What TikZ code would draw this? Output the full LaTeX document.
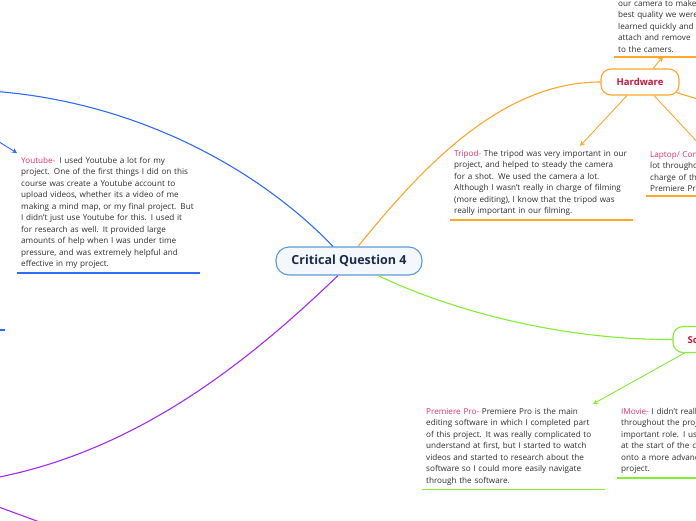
\documentclass[tikz,border=0pt]{standalone}
\usepackage{fontspec}
\setmainfont{Open Sans}
\usetikzlibrary{calc,arrows.meta}
\definecolor{cblue}{HTML}{2F6BFF}
\definecolor{corange}{HTML}{FFA726}
\definecolor{cgreen}{HTML}{84EE30}
\definecolor{cpurple}{HTML}{A52AF5}
\definecolor{clabel}{HTML}{E8336D}
\definecolor{ctitle}{HTML}{C8173C}
\definecolor{cnavy}{HTML}{1B2B4B}
\definecolor{ccentral}{HTML}{5B9BD5}
\definecolor{cfill}{HTML}{F4F8FC}
\definecolor{ctext}{HTML}{2E2E2E}
\tikzset{
  conn/.style={line width=1.1pt},
  arr/.style={line width=0.9pt,-{Stealth[length=5pt,width=5pt]}},
  ul/.style={line width=1.7pt},
  note/.style={anchor=north west, inner xsep=4pt, inner ysep=4pt, text width=200pt, align=left,
    font=\fontsize{8.15}{11.5}\selectfont, text=ctext},
  topic/.style={rounded corners=10pt, line width=1.1pt, fill=white, minimum height=26pt,
    font=\bfseries\fontsize{9.5}{11}\selectfont, text=ctitle}
}
\begin{document}
\begin{tikzpicture}[x=1pt,y=-1pt]
\useasboundingbox (0,0) rectangle (696,520);
\fill[white] (0,0) rectangle (696,520);
\clip (0,0) rectangle (696,520);

% central and topic nodes
\node[draw=ccentral, fill=cfill, line width=1.1pt, rounded corners=13pt, minimum width=146pt, minimum height=28pt,
  font=\bfseries\fontsize{12.5}{14}\selectfont, text=cnavy] (cq) at (349,261) {Critical Question 4};
\node[topic, draw=corange, minimum width=78pt] (hw) at (640,82) {Hardware};
\node[topic, draw=cgreen, minimum width=72pt] (sw) at (709,339.5) {Software};

% notes
\node[note] (yt) at (17,153) {\textcolor{clabel}{Youtube-}\enspace I used Youtube a lot for my\\
project. One of the first things I did on this\\
course was create a Youtube account to\\
upload videos, whether its a video of me\\
making a mind map, or my final project. But\\
I didn't just use Youtube for this. I used it\\
for research as well. It provided large\\
amounts of help when I was under time\\
pressure, and was extremely helpful and\\
effective in my project.};

\node[note] (trip) at (450,146) {\textcolor{clabel}{Tripod-} The tripod was very important in our\\
project, and helped to steady the camera\\
for a shot. We used the camera a lot.\\
Although I wasn't really in charge of filming\\
(more editing), I know that the tripod was\\
really important in our filming.};

\node[note] (lap) at (646,147) {\textcolor{clabel}{Laptop/ Computer}\\
lot throughout\\
charge of the\\
Premiere Pro};

\node[note] (topb) at (614,-4) {our camera to make\\
best quality we were\\
learned quickly and\\
attach and remove\\
to the camers.};

\node[note] (prem) at (422,404) {\textcolor{clabel}{Premiere Pro-} Premiere Pro is the main\\
editing software in which I completed part\\
of this project. It was really complicated to\\
understand at first, but I started to watch\\
videos and started to research about the\\
software so I could more easily navigate\\
through the software.};

\node[note] (imov) at (617,404) {\textcolor{clabel}{IMovie-} I didn't really\\
throughout the project\\
important role. I used\\
at the start of the course\\
onto a more advanced\\
project.};

% underlines
\draw[ul,cblue] (yt.south west) -- ++(183,0);
\draw[ul,corange] (trip.south west) -- ++(183,0);
\draw[ul,corange] (lap.south west) -- ++(183,0);
\draw[ul,corange] (topb.south west) -- ++(183,0);
\draw[ul,cgreen] (prem.south west) -- ++(183,0);
\draw[ul,cgreen] (imov.south west) -- ++(183,0);

% off-picture ends
\coordinate (lb) at (-30,90);
\coordinate (lp) at (-30,482);
\coordinate (ya) at (-12,135);
\coordinate (bs1) at (-12,330);
\coordinate (bs2) at (5,330);
\coordinate (pp1) at (-12,503);
\coordinate (pp2) at (45,524);
\coordinate (hr) at (740,112);

% main branches
\draw[conn,cblue] ($(cq.north)+(-16,0)$) .. controls (260,170) and (130,95) .. (lb);
\draw[conn,corange] ($(cq.north)+(9,0)$) .. controls (420,170) and (500,82) .. (hw.west);
\draw[conn,cgreen] ($(cq.south)+(29,0)$) .. controls (450,310) and (560,340) .. (sw.west);
\draw[conn,cpurple] ($(cq.south)+(-11,0)$) .. controls (250,360) and (130,460) .. (lp);

% sub branches
\draw[arr,cblue] (ya) -- (yt.north west);
\draw[ul,cblue] (bs1) -- (bs2);
\draw[conn,cpurple] (pp1) -- (pp2);
\draw[arr,corange] ($(hw.north)+(13,0)$) -- ($(topb.south west)+(49,0)$);
\draw[arr,corange] ($(hw.south)+(-13,0)$) -- ($(trip.north west)+(130,0)$);
\draw[arr,corange] ($(hw.south)+(14,0)$) -- ($(lap.north west)+(56,0)$);
\draw[conn,corange] ($(hw.south east)+(-3,-3)$) -- (hr);
\draw[arr,cgreen] ($(sw.south west)+(12,0)$) -- ($(prem.north west)+(171,0)$);
\end{tikzpicture}
\end{document}
